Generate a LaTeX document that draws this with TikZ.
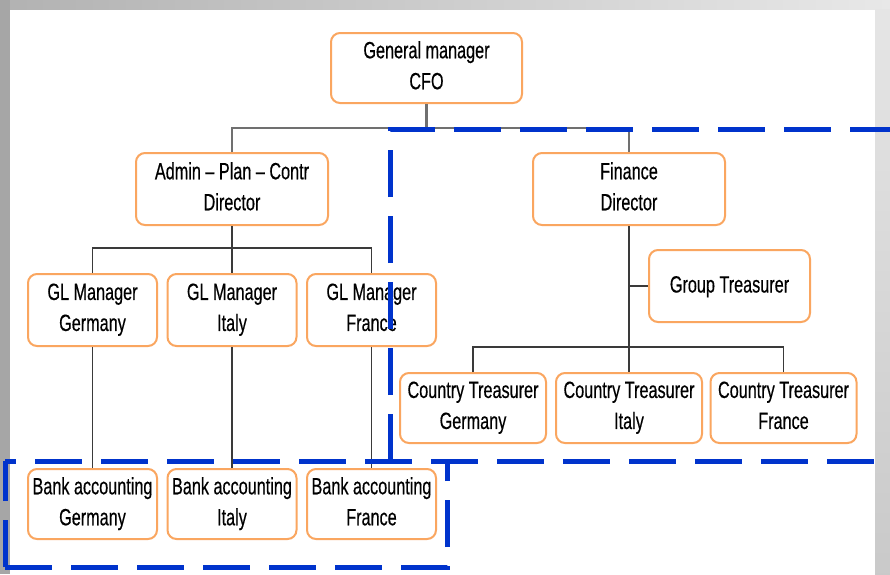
\documentclass[tikz,border=0pt]{standalone}
\usepackage{fontspec}
\setmainfont{Liberation Sans}[FakeStretch=0.69, FakeBold=0.4]
% invisible rules that fix the top and bottom of each label block
\newcommand{\labeltop}{\rule{0pt}{24.5pt}}
\newcommand{\labelbottom}{\rule[-5.5pt]{0pt}{5.5pt}}
\newcommand{\singlebottom}{\rule[-11.5pt]{0pt}{11.5pt}}
\begin{document}
\begin{tikzpicture}[x=1pt,y=-1pt,
  box/.style={draw={rgb,255:red,250;green,166;blue,96}, line width=2pt,
    rounded corners=9pt, fill=white, align=center, inner sep=0pt,
    font=\fontsize{23.5}{31}\selectfont,
    execute at begin node=\labeltop, execute at end node=\labelbottom},
  gl/.style={box, minimum width=129pt, minimum height=72pt},
  ct/.style={box, minimum width=146pt, minimum height=70pt},
  conn/.style={draw={rgb,255:red,58;green,58;blue,58}, line width=1.5pt},
  topconn/.style={draw={rgb,255:red,112;green,112;blue,112}, line width=2.2pt},
  bluedash/.style={draw={rgb,255:red,0;green,51;blue,204}, line width=5pt,
    dash pattern=on 47pt off 19pt}
]
% page and frame strips
\useasboundingbox (0,0) rectangle (890,574);
\fill[white] (0,0) rectangle (890,574);
\fill[black!35] (0,0) rectangle (10,574);
\shade[left color=black!30, right color=black!9] (10,0) rectangle (890,9);
\shade[top color=black!10, bottom color=black!21] (875,9) rectangle (890,574);

% boxes
\node[box, minimum width=191pt, minimum height=70pt] (cfo) at (426.5,68) {General manager\\CFO};
\node[box, minimum width=192pt, minimum height=72pt] (admin) at (232,189) {Admin – Plan – Contr\\Director};
\node[box, minimum width=192pt, minimum height=72pt] (fin) at (629,189) {Finance\\Director};

\node[gl] (glG) at (92.5,310) {GL Manager\\Germany};
\node[gl] (glI) at (232,310) {GL Manager\\Italy};
\node[gl] (glF) at (371.5,310) {GL Manager\\France};

\node[gl, minimum height=70pt] (bkG) at (92.5,504) {Bank accounting\\Germany};
\node[gl, minimum height=70pt] (bkI) at (232,504) {Bank accounting\\Italy};
\node[gl, minimum height=70pt] (bkF) at (371.5,504) {Bank accounting\\France};

\node[box, minimum width=161pt, minimum height=72pt,
  execute at end node=\singlebottom] (gt) at (729.5,286) {Group Treasurer};

\node[ct] (ctG) at (473,408) {Country Treasurer\\Germany};
\node[ct] (ctI) at (629,408) {Country Treasurer\\Italy};
\node[ct] (ctF) at (783.5,408) {Country Treasurer\\France};

% junction points
\coordinate (j0) at (426.5,128);
\coordinate (j1) at (232,248);
\coordinate (j2) at (629,347);

% connectors
\draw[topconn] (cfo.south) -- (j0);
\draw[topconn] (admin.north) |- (j0) -| (fin.north);

\draw[conn] (admin.south) -- (glI.north);
\draw[conn] (glG.north) |- (j1) -| (glF.north);

\draw[conn] (glG.south) -- (bkG.north);
\draw[conn] (glI.south) -- (bkI.north);
\draw[conn] (glF.south) -- (bkF.north);

\draw[conn] (fin.south) -- (ctI.north);
\draw[conn] (fin.south |- gt.west) -- (gt.west);
\draw[conn] (ctG.north) |- (j2) -| (ctF.north);

% dashed groupings
\draw[bluedash] (5,567) -- (447,567) -- (447,461);
\draw[bluedash] (5,567) -- (5,461);
\draw[bluedash, dash phase=36pt] (5,461) -- (875,461);
\draw[bluedash] (390,461) -- (390,129) -- (890,129);
\end{tikzpicture}
\end{document}
